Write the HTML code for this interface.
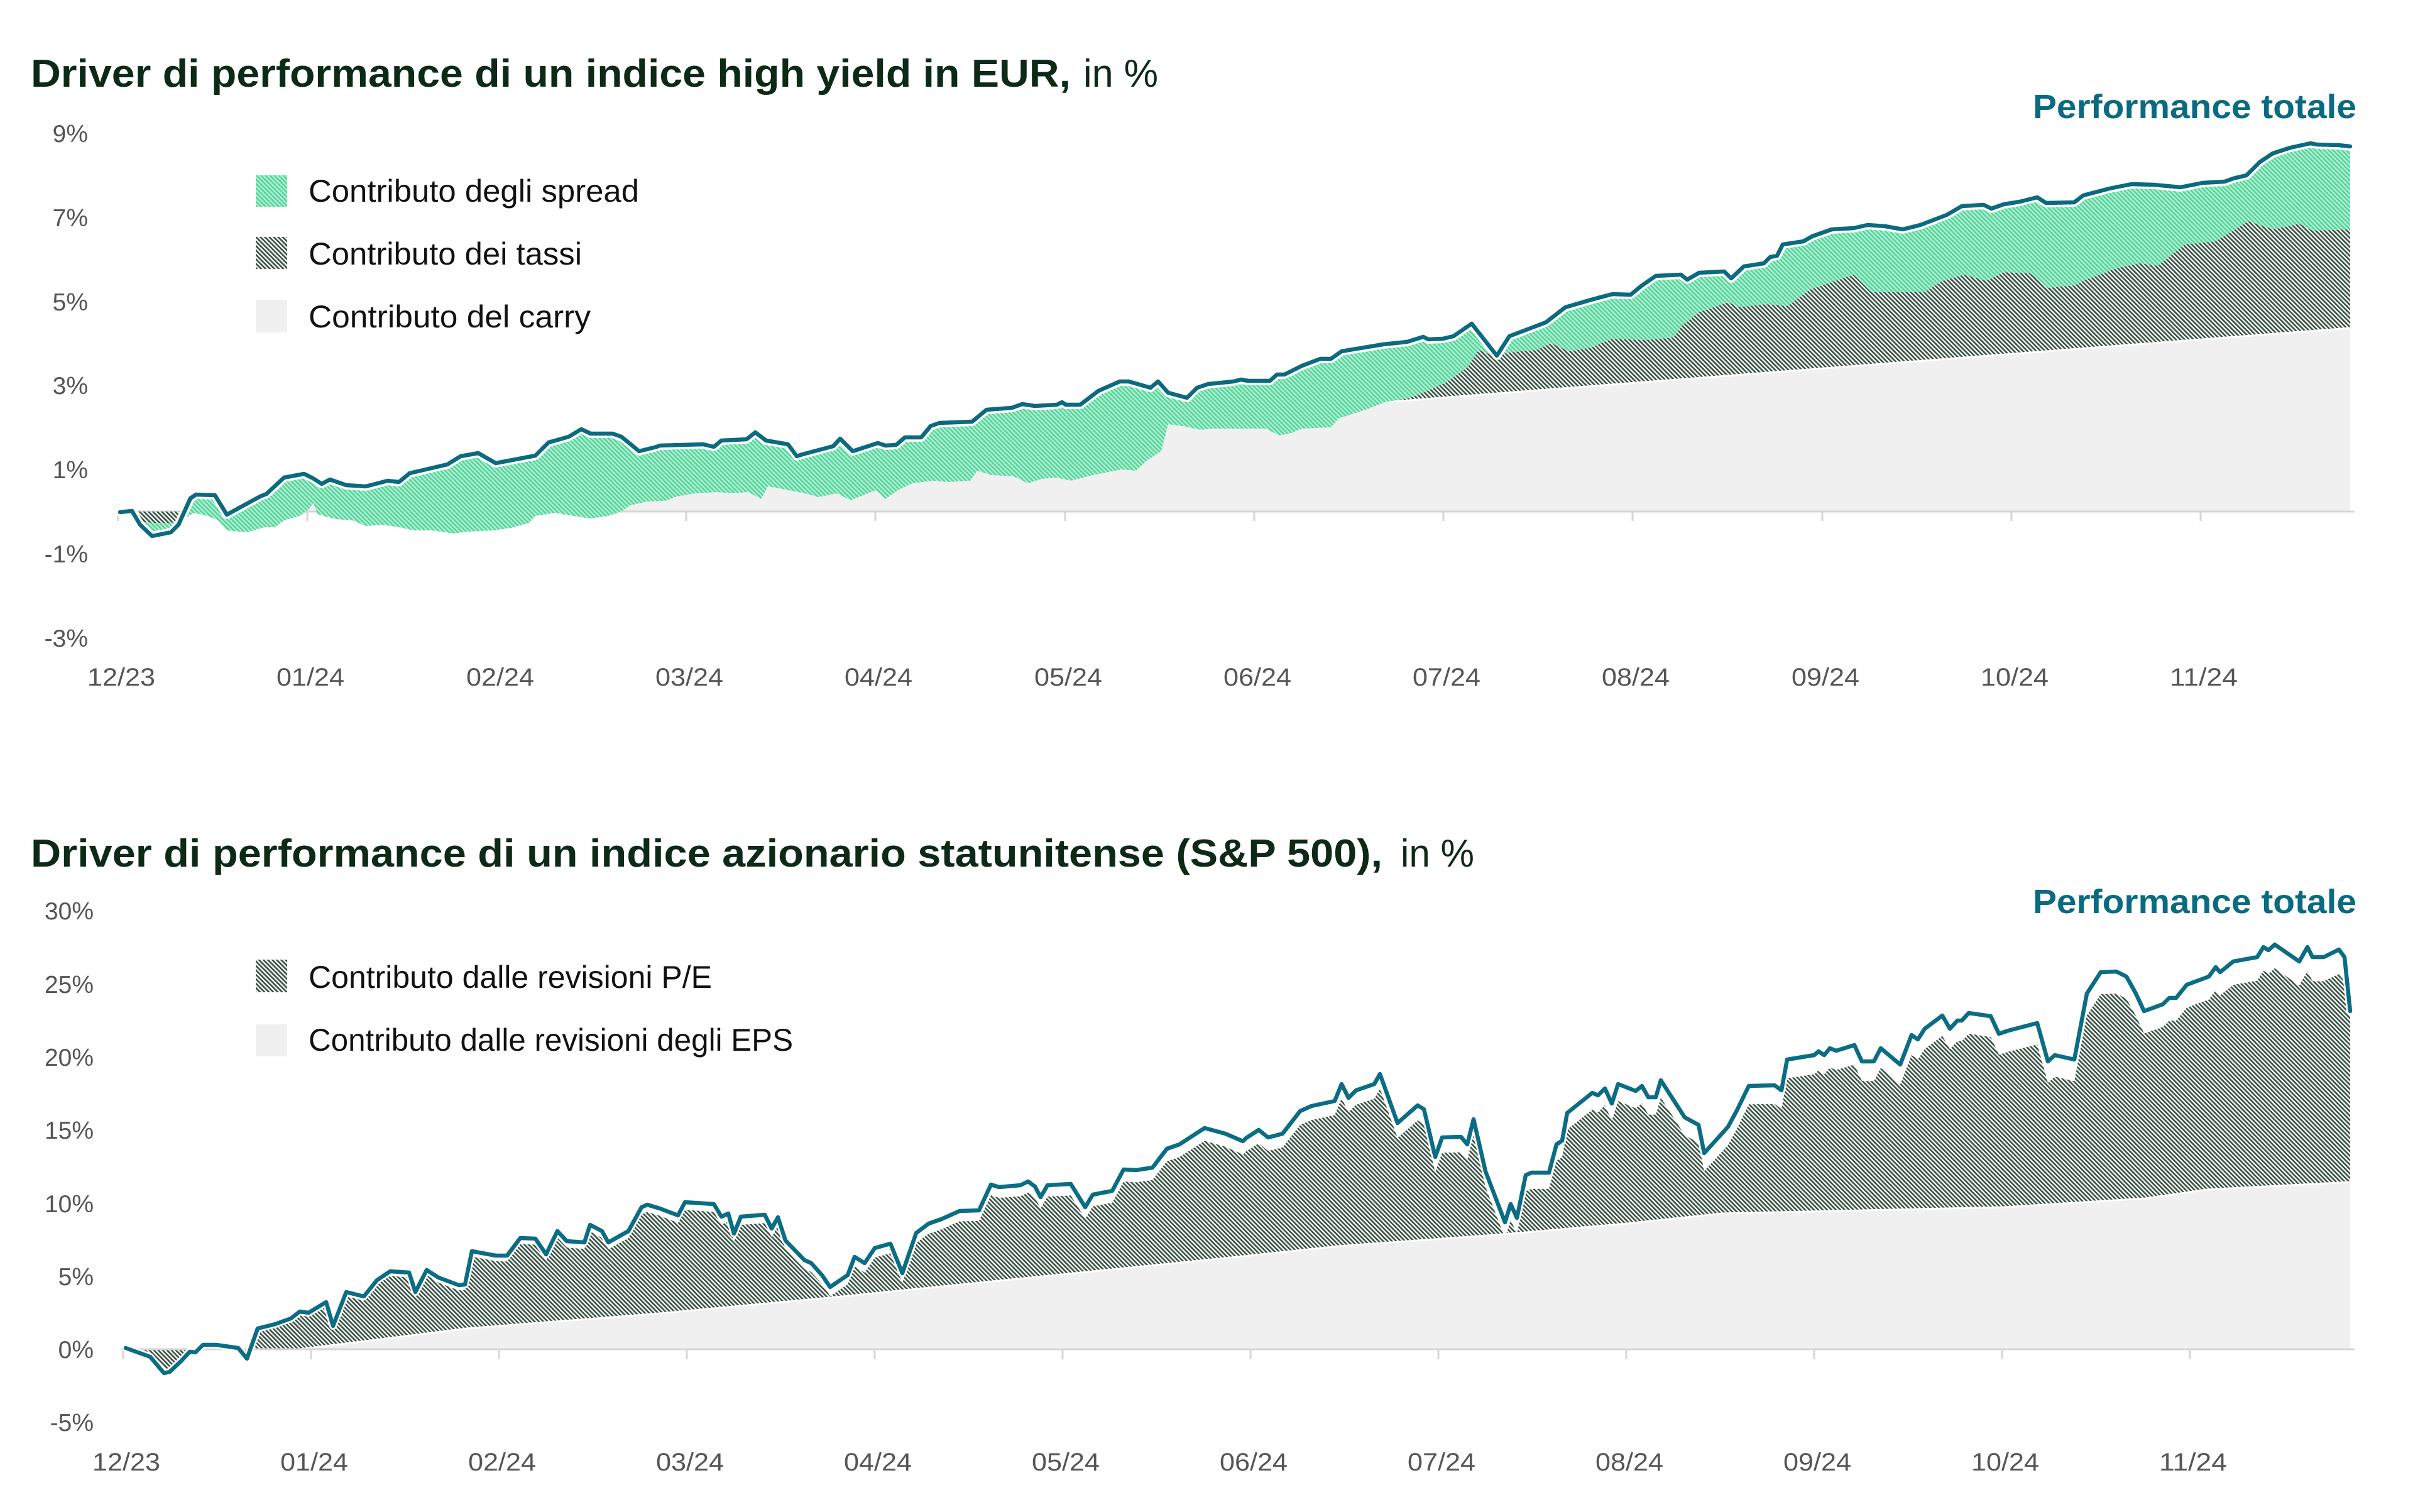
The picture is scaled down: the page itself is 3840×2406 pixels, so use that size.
<!DOCTYPE html>
<html>
<head>
<meta charset="utf-8">
<style>
  html, body { margin: 0; padding: 0; background: #ffffff; }
  svg { display: block; }
  text { font-family: "Liberation Sans", "DejaVu Sans", sans-serif; }
</style>
</head>
<body>
<svg xmlns="http://www.w3.org/2000/svg" width="3840" height="2406" viewBox="0 0 3840 2406">
  <defs>
    <pattern id="pg" patternUnits="userSpaceOnUse" width="5" height="5" patternTransform="rotate(-45)">
      <rect width="5" height="5" fill="#b3efd3"/>
      <rect width="2.5" height="5" fill="#52d49a"/>
    </pattern>
    <pattern id="pd" patternUnits="userSpaceOnUse" width="5" height="5" patternTransform="rotate(-45)">
      <rect width="5" height="5" fill="#ffffff"/>
      <rect width="2.7" height="5" fill="#3a5244"/>
    </pattern>
    <clipPath id="above1"><rect x="0" y="0" width="3840" height="814"/></clipPath>
  </defs>
  <rect width="3840" height="2406" fill="#ffffff"/>

  <!-- ================= CHART 1 ================= -->
  <text x="49" y="138" font-size="62" font-weight="bold" fill="#0d2a17" textLength="1655" lengthAdjust="spacingAndGlyphs">Driver di performance di un indice high yield in EUR,</text>
  <text x="1724" y="138" font-size="62" fill="#0d2a17" textLength="119" lengthAdjust="spacingAndGlyphs">in %</text>

  <!-- y labels -->
  <g font-size="39" fill="#555555" text-anchor="end">
    <text x="140" y="226">9%</text>
    <text x="140" y="360">7%</text>
    <text x="140" y="494">5%</text>
    <text x="140" y="627">3%</text>
    <text x="140" y="761">1%</text>
    <text x="140" y="895">-1%</text>
    <text x="140" y="1029">-3%</text>
  </g>

  <!-- carry (gray) -->
  <path clip-path="url(#above1)" fill="#f0f0f0" d="M191,814 L191,815 210,814 224,830 242,832 272,832 288,828 309,816 330,821 347,828 361,844 393,847 421,839 438,839 452,828 477,821 491,811 499,800 505,818 533,826 561,828 582,837 610,835 635,839 659,844 687,844 722,849 744,846 786,844 814,840 842,832 852,821 884,816 912,821 940,825 968,821 989,814 1003,804 1031,798 1059,797 1077,790 1107,785 1142,783 1165,785 1191,783 1211,794 1222,774 1245,778 1280,785 1303,791 1331,785 1354,796 1371,789 1394,780 1409,794 1429,780 1452,769 1486,765 1509,767 1544,765 1555,749 1578,756 1613,758 1636,769 1658,762 1682,760 1704,765 1739,756 1785,747 1808,749 1825,733 1848,718 1859,675 1882,678 1911,684 1928,682 1946,682 2015,682 2035,693 2055,689 2072,682 2118,680 2130,666 2176,651 2204,640 2500,617 2800,594 3100,571 3400,548 3740,522 3740,814 Z"/>

  <!-- axis line 1 -->
  <line x1="185" y1="814" x2="3747" y2="814" stroke="#d6d6d6" stroke-width="3"/>
  <g stroke="#d6d6d6" stroke-width="3">
    <line x1="188" y1="814" x2="188" y2="829"/>
    <line x1="489" y1="814" x2="489" y2="829"/>
    <line x1="791" y1="814" x2="791" y2="829"/>
    <line x1="1092" y1="814" x2="1092" y2="829"/>
    <line x1="1393" y1="814" x2="1393" y2="829"/>
    <line x1="1695" y1="814" x2="1695" y2="829"/>
    <line x1="1996" y1="814" x2="1996" y2="829"/>
    <line x1="2297" y1="814" x2="2297" y2="829"/>
    <line x1="2598" y1="814" x2="2598" y2="829"/>
    <line x1="2900" y1="814" x2="2900" y2="829"/>
    <line x1="3201" y1="814" x2="3201" y2="829"/>
    <line x1="3502" y1="814" x2="3502" y2="829"/>
  </g>

  <!-- tassi (dark hatched) -->
  <path fill="url(#pd)" d="M2204,640 L2244,633 2267,624 2302,608 2336,584 2353,557 2382,568 2399,561 2445,557 2468,546 2497,559 2532,553 2566,539 2618,541 2663,537 2678,517 2704,497 2750,481 2768,489 2810,484 2845,487 2880,461 2950,437 2978,465 3063,465 3091,447 3126,437 3161,447 3189,433 3231,435 3259,458 3301,454 3322,444 3371,426 3406,419 3434,423 3477,389 3526,384 3554,367 3578,352 3617,365 3659,356 3680,367 3740,365 3740,522 3400,548 3100,571 2800,594 2500,617 Z"/>
  <path fill="url(#pd)" d="M212,814 L290,814 288,828 272,832 242,832 224,830 Z"/>
  <path fill="url(#pd)" d="M361,817 L392,797 394,807 Z"/>
  <polyline fill="none" stroke="#ffffff" stroke-width="3" points="2204,640 2500,617 2800,594 3100,571 3400,548 3740,522"/>

  <!-- spread (green hatched) -->
  <path fill="url(#pg)" d="M191,815 L210,813 223,835 242,853 272,847 284,835 303,793 312,787 342,788 361,819 379,809 414,790 424,786 452,760 484,754 498,761 512,770 525,763 551,772 582,774 617,765 635,767 652,753 712,739 733,726 761,721 789,737 852,725 873,704 905,695 925,683 940,690 975,690 989,695 1017,718 1045,711 1050,709 1119,707 1136,711 1148,701 1188,699 1202,688 1219,701 1254,707 1268,726 1277,723 1326,710 1337,698 1357,718 1397,705 1409,709 1426,708 1440,696 1466,696 1481,678 1495,673 1547,671 1570,652 1610,649 1627,643 1647,646 1682,644 1690,640 1696,644 1719,644 1748,622 1782,607 1796,607 1831,617 1843,607 1859,625 1889,633 1905,617 1923,611 1934,610 1963,607 1975,604 1986,606 2021,606 2032,596 2044,596 2072,582 2101,571 2118,571 2135,559 2201,548 2239,544 2265,536 2273,540 2296,539 2313,535 2342,515 2382,566 2402,535 2460,513 2491,489 2532,477 2566,468 2595,469 2612,455 2635,439 2675,437 2685,445 2704,434 2744,432 2755,443 2775,424 2807,419 2817,409 2828,407 2837,389 2870,384 2884,376 2915,365 2950,363 2972,358 3000,360 3028,365 3056,358 3098,342 3122,328 3157,326 3169,332 3189,325 3214,321 3242,314 3256,323 3301,322 3315,311 3357,300 3392,293 3428,294 3470,298 3505,291 3540,289 3554,284 3575,279 3596,258 3617,244 3645,235 3677,228 3687,230 3722,231 3740,233 L3740,365 3680,367 3659,356 3617,365 3578,352 3554,367 3526,384 3477,389 3434,423 3406,419 3371,426 3322,444 3301,454 3259,458 3231,435 3189,433 3161,447 3126,437 3091,447 3063,465 2978,465 2950,437 2880,461 2845,487 2810,484 2768,489 2750,481 2704,497 2678,517 2663,537 2618,541 2566,539 2532,553 2497,559 2468,546 2445,557 2399,561 2382,568 2353,557 2336,584 2302,608 2267,624 2244,633 2204,640 2176,651 2130,666 2118,680 2072,682 2055,689 2035,693 2015,682 1946,682 1928,682 1911,684 1882,678 1859,675 1848,718 1825,733 1808,749 1785,747 1739,756 1704,765 1682,760 1658,762 1636,769 1613,758 1578,756 1555,749 1544,765 1509,767 1486,765 1452,769 1429,780 1409,794 1394,780 1371,789 1354,796 1331,785 1303,791 1280,785 1245,778 1222,774 1211,794 1191,783 1165,785 1142,783 1107,785 1077,790 1059,797 1031,798 1003,804 989,814 968,821 940,825 912,821 884,816 852,821 842,832 814,840 786,844 744,846 722,849 687,844 659,844 635,839 610,835 582,837 561,828 533,826 505,818 499,800 491,811 477,821 452,828 438,839 421,839 393,847 361,844 347,828 330,821 309,816 288,828 272,832 242,832 224,830 210,814 191,815 Z"/>

  <!-- total line 1 -->
  <g fill="none" stroke-linejoin="round" stroke-linecap="round">
    <polyline id="t1" stroke="#ffffff" stroke-width="14" points="191,815 210,813 223,835 242,853 272,847 284,835 303,793 312,787 342,788 361,819 379,809 414,790 424,786 452,760 484,754 498,761 512,770 525,763 551,772 582,774 617,765 635,767 652,753 712,739 733,726 761,721 789,737 852,725 873,704 905,695 925,683 940,690 975,690 989,695 1017,718 1045,711 1050,709 1119,707 1136,711 1148,701 1188,699 1202,688 1219,701 1254,707 1268,726 1277,723 1326,710 1337,698 1357,718 1397,705 1409,709 1426,708 1440,696 1466,696 1481,678 1495,673 1547,671 1570,652 1610,649 1627,643 1647,646 1682,644 1690,640 1696,644 1719,644 1748,622 1782,607 1796,607 1831,617 1843,607 1859,625 1889,633 1905,617 1923,611 1934,610 1963,607 1975,604 1986,606 2021,606 2032,596 2044,596 2072,582 2101,571 2118,571 2135,559 2201,548 2239,544 2265,536 2273,540 2296,539 2313,535 2342,515 2382,566 2402,535 2460,513 2491,489 2532,477 2566,468 2595,469 2612,455 2635,439 2675,437 2685,445 2704,434 2744,432 2755,443 2775,424 2807,419 2817,409 2828,407 2837,389 2870,384 2884,376 2915,365 2950,363 2972,358 3000,360 3028,365 3056,358 3098,342 3122,328 3157,326 3169,332 3189,325 3214,321 3242,314 3256,323 3301,322 3315,311 3357,300 3392,293 3428,294 3470,298 3505,291 3540,289 3554,284 3575,279 3596,258 3617,244 3645,235 3677,228 3687,230 3722,231 3740,233"/>
    <polyline stroke="#0b6a7f" stroke-width="6.5" points="191,815 210,813 223,835 242,853 272,847 284,835 303,793 312,787 342,788 361,819 379,809 414,790 424,786 452,760 484,754 498,761 512,770 525,763 551,772 582,774 617,765 635,767 652,753 712,739 733,726 761,721 789,737 852,725 873,704 905,695 925,683 940,690 975,690 989,695 1017,718 1045,711 1050,709 1119,707 1136,711 1148,701 1188,699 1202,688 1219,701 1254,707 1268,726 1277,723 1326,710 1337,698 1357,718 1397,705 1409,709 1426,708 1440,696 1466,696 1481,678 1495,673 1547,671 1570,652 1610,649 1627,643 1647,646 1682,644 1690,640 1696,644 1719,644 1748,622 1782,607 1796,607 1831,617 1843,607 1859,625 1889,633 1905,617 1923,611 1934,610 1963,607 1975,604 1986,606 2021,606 2032,596 2044,596 2072,582 2101,571 2118,571 2135,559 2201,548 2239,544 2265,536 2273,540 2296,539 2313,535 2342,515 2382,566 2402,535 2460,513 2491,489 2532,477 2566,468 2595,469 2612,455 2635,439 2675,437 2685,445 2704,434 2744,432 2755,443 2775,424 2807,419 2817,409 2828,407 2837,389 2870,384 2884,376 2915,365 2950,363 2972,358 3000,360 3028,365 3056,358 3098,342 3122,328 3157,326 3169,332 3189,325 3214,321 3242,314 3256,323 3301,322 3315,311 3357,300 3392,293 3428,294 3470,298 3505,291 3540,289 3554,284 3575,279 3596,258 3617,244 3645,235 3677,228 3687,230 3722,231 3740,233"/>
  </g>

  <text x="3235" y="188" font-size="54" font-weight="bold" fill="#0a6b80" textLength="515" lengthAdjust="spacingAndGlyphs">Performance totale</text>

  <!-- legend 1 -->
  <rect x="407" y="279" width="50" height="50" fill="url(#pg)"/>
  <rect x="407" y="377" width="50" height="51" fill="url(#pd)"/>
  <rect x="407" y="477" width="50" height="52" fill="#f0f0f0"/>
  <g font-size="50" fill="#111111">
    <text x="491" y="321" textLength="526" lengthAdjust="spacingAndGlyphs">Contributo degli spread</text>
    <text x="491" y="421" textLength="435" lengthAdjust="spacingAndGlyphs">Contributo dei tassi</text>
    <text x="491" y="521" textLength="449" lengthAdjust="spacingAndGlyphs">Contributo del carry</text>
  </g>

  <!-- x labels 1 -->
  <g font-size="40" fill="#555555" text-anchor="middle">
    <text x="193" y="1091" textLength="108" lengthAdjust="spacingAndGlyphs">12/23</text>
    <text x="494" y="1091" textLength="108" lengthAdjust="spacingAndGlyphs">01/24</text>
    <text x="796" y="1091" textLength="108" lengthAdjust="spacingAndGlyphs">02/24</text>
    <text x="1097" y="1091" textLength="108" lengthAdjust="spacingAndGlyphs">03/24</text>
    <text x="1398" y="1091" textLength="108" lengthAdjust="spacingAndGlyphs">04/24</text>
    <text x="1700" y="1091" textLength="108" lengthAdjust="spacingAndGlyphs">05/24</text>
    <text x="2001" y="1091" textLength="108" lengthAdjust="spacingAndGlyphs">06/24</text>
    <text x="2302" y="1091" textLength="108" lengthAdjust="spacingAndGlyphs">07/24</text>
    <text x="2603" y="1091" textLength="108" lengthAdjust="spacingAndGlyphs">08/24</text>
    <text x="2905" y="1091" textLength="108" lengthAdjust="spacingAndGlyphs">09/24</text>
    <text x="3206" y="1091" textLength="108" lengthAdjust="spacingAndGlyphs">10/24</text>
    <text x="3507" y="1091" textLength="108" lengthAdjust="spacingAndGlyphs">11/24</text>
  </g>

  <!-- ================= CHART 2 ================= -->
  <text x="49" y="1379" font-size="62" font-weight="bold" fill="#0d2a17" textLength="2151" lengthAdjust="spacingAndGlyphs">Driver di performance di un indice azionario statunitense (S&amp;P 500),</text>
  <text x="2229" y="1379" font-size="62" fill="#0d2a17" textLength="117" lengthAdjust="spacingAndGlyphs">in %</text>

  <g font-size="39" fill="#555555" text-anchor="end">
    <text x="149" y="1463">30%</text>
    <text x="149" y="1580">25%</text>
    <text x="149" y="1696">20%</text>
    <text x="149" y="1812">15%</text>
    <text x="149" y="1929">10%</text>
    <text x="149" y="2045">5%</text>
    <text x="149" y="2161">0%</text>
    <text x="149" y="2277">-5%</text>
  </g>

  <!-- P/E contribution (dark hatched) : total line shifted down by a growing gap -->
  <path fill="url(#pd)" transform="matrix(1,0.010158,0,1,0,1.009)" d="M200,2145 L239,2159 261,2185 270,2183 288,2166 302,2151 311,2152 323,2140 344,2140 379,2145 393,2162 410,2114 438,2107 463,2098 477,2087 491,2089 519,2072 530,2110 551,2056 579,2063 600,2037 621,2023 651,2025 661,2056 679,2021 698,2033 730,2045 740,2044 751,1991 789,1998 807,1998 828,1970 852,1971 869,1996 887,1959 902,1975 930,1977 939,1949 958,1959 968,1977 1000,1959 1021,1921 1030,1917 1050,1923 1079,1934 1090,1913 1136,1916 1148,1936 1159,1931 1168,1963 1179,1936 1217,1933 1228,1955 1238,1937 1250,1974 1280,2005 1291,2010 1308,2029 1321,2048 1349,2029 1360,2000 1376,2010 1392,1986 1417,1979 1436,2026 1458,1962 1478,1947 1498,1940 1527,1927 1558,1926 1577,1885 1590,1889 1624,1886 1636,1880 1647,1888 1656,1905 1667,1886 1704,1884 1727,1921 1739,1901 1770,1895 1788,1861 1808,1862 1834,1858 1857,1828 1877,1821 1917,1795 1950,1804 1978,1816 1983,1811 2003,1798 2018,1810 2041,1804 2069,1768 2087,1760 2124,1752 2135,1725 2146,1747 2158,1735 2187,1725 2196,1709 2224,1787 2256,1759 2266,1765 2284,1841 2295,1810 2325,1809 2335,1821 2345,1781 2364,1864 2395,1945 2404,1916 2414,1938 2428,1870 2437,1866 2465,1866 2477,1821 2486,1815 2494,1771 2534,1739 2543,1743 2554,1732 2565,1756 2575,1725 2603,1736 2613,1728 2623,1746 2635,1746 2643,1719 2681,1778 2703,1790 2712,1835 2750,1793 2764,1767 2783,1728 2824,1727 2835,1735 2844,1686 2887,1679 2894,1673 2903,1679 2912,1668 2922,1672 2951,1663 2963,1689 2982,1689 2993,1668 3024,1694 3042,1647 3052,1654 3063,1637 3091,1616 3103,1637 3115,1624 3122,1624 3133,1612 3168,1617 3181,1645 3196,1640 3242,1628 3259,1689 3270,1679 3301,1686 3321,1581 3343,1547 3368,1546 3384,1554 3399,1581 3412,1609 3442,1598 3452,1588 3463,1588 3480,1567 3515,1554 3526,1539 3533,1547 3554,1530 3592,1523 3602,1507 3610,1512 3620,1503 3659,1530 3672,1507 3680,1523 3698,1523 3722,1511 3731,1523 3740,1520 L3740,2108 L196,2144 Z"/>

  <!-- EPS contribution (gray) -->
  <path fill="#f0f0f0" d="M196,2147 L477,2147 743,2114 1050,2090 1320,2065 1950,2002 2130,1983 2394,1964 2589,1947 2740,1931 3189,1921 3414,1907 3512,1893 3740,1881 3740,2147 Z"/>
  <polyline fill="none" stroke="#ffffff" stroke-width="3" points="477,2147 743,2114 1050,2090 1320,2065 1950,2002 2130,1983 2394,1964 2589,1947 2740,1931 3189,1921 3414,1907 3512,1893 3740,1881"/>

  <!-- axis line 2 -->
  <line x1="193" y1="2147" x2="3747" y2="2147" stroke="#d6d6d6" stroke-width="3"/>
  <g stroke="#d6d6d6" stroke-width="3">
    <line x1="196" y1="2147" x2="196" y2="2163"/>
    <line x1="495" y1="2147" x2="495" y2="2163"/>
    <line x1="794" y1="2147" x2="794" y2="2163"/>
    <line x1="1093" y1="2147" x2="1093" y2="2163"/>
    <line x1="1392" y1="2147" x2="1392" y2="2163"/>
    <line x1="1691" y1="2147" x2="1691" y2="2163"/>
    <line x1="1990" y1="2147" x2="1990" y2="2163"/>
    <line x1="2289" y1="2147" x2="2289" y2="2163"/>
    <line x1="2588" y1="2147" x2="2588" y2="2163"/>
    <line x1="2887" y1="2147" x2="2887" y2="2163"/>
    <line x1="3186" y1="2147" x2="3186" y2="2163"/>
    <line x1="3485" y1="2147" x2="3485" y2="2163"/>
  </g>

  <!-- total line 2 -->
  <g fill="none" stroke-linejoin="round" stroke-linecap="round">
    <polyline stroke="#ffffff" stroke-width="12" points="200,2145 239,2159 261,2185 270,2183 288,2166 302,2151 311,2152 323,2140 344,2140 379,2145 393,2162 410,2114 438,2107 463,2098 477,2087 491,2089 519,2072 530,2110 551,2056 579,2063 600,2037 621,2023 651,2025 661,2056 679,2021 698,2033 730,2045 740,2044 751,1991 789,1998 807,1998 828,1970 852,1971 869,1996 887,1959 902,1975 930,1977 939,1949 958,1959 968,1977 1000,1959 1021,1921 1030,1917 1050,1923 1079,1934 1090,1913 1136,1916 1148,1936 1159,1931 1168,1963 1179,1936 1217,1933 1228,1955 1238,1937 1250,1974 1280,2005 1291,2010 1308,2029 1321,2048 1349,2029 1360,2000 1376,2010 1392,1986 1417,1979 1436,2026 1458,1962 1478,1947 1498,1940 1527,1927 1558,1926 1577,1885 1590,1889 1624,1886 1636,1880 1647,1888 1656,1905 1667,1886 1704,1884 1727,1921 1739,1901 1770,1895 1788,1861 1808,1862 1834,1858 1857,1828 1877,1821 1917,1795 1950,1804 1978,1816 1983,1811 2003,1798 2018,1810 2041,1804 2069,1768 2087,1760 2124,1752 2135,1725 2146,1747 2158,1735 2187,1725 2196,1709 2224,1787 2256,1759 2266,1765 2284,1841 2295,1810 2325,1809 2335,1821 2345,1781 2364,1864 2395,1945 2404,1916 2414,1938 2428,1870 2437,1866 2465,1866 2477,1821 2486,1815 2494,1771 2534,1739 2543,1743 2554,1732 2565,1756 2575,1725 2603,1736 2613,1728 2623,1746 2635,1746 2643,1719 2681,1778 2703,1790 2712,1835 2750,1793 2764,1767 2783,1728 2824,1727 2835,1735 2844,1686 2887,1679 2894,1673 2903,1679 2912,1668 2922,1672 2951,1663 2963,1689 2982,1689 2993,1668 3024,1694 3042,1647 3052,1654 3063,1637 3091,1616 3103,1637 3115,1624 3122,1624 3133,1612 3168,1617 3181,1645 3196,1640 3242,1628 3259,1689 3270,1679 3301,1686 3321,1581 3343,1547 3368,1546 3384,1554 3399,1581 3412,1609 3442,1598 3452,1588 3463,1588 3480,1567 3515,1554 3526,1539 3533,1547 3554,1530 3592,1523 3602,1507 3610,1512 3620,1503 3659,1530 3672,1507 3680,1523 3698,1523 3722,1511 3731,1523 3740,1609"/>
    <polyline stroke="#0b6d84" stroke-width="6.5" points="200,2145 239,2159 261,2185 270,2183 288,2166 302,2151 311,2152 323,2140 344,2140 379,2145 393,2162 410,2114 438,2107 463,2098 477,2087 491,2089 519,2072 530,2110 551,2056 579,2063 600,2037 621,2023 651,2025 661,2056 679,2021 698,2033 730,2045 740,2044 751,1991 789,1998 807,1998 828,1970 852,1971 869,1996 887,1959 902,1975 930,1977 939,1949 958,1959 968,1977 1000,1959 1021,1921 1030,1917 1050,1923 1079,1934 1090,1913 1136,1916 1148,1936 1159,1931 1168,1963 1179,1936 1217,1933 1228,1955 1238,1937 1250,1974 1280,2005 1291,2010 1308,2029 1321,2048 1349,2029 1360,2000 1376,2010 1392,1986 1417,1979 1436,2026 1458,1962 1478,1947 1498,1940 1527,1927 1558,1926 1577,1885 1590,1889 1624,1886 1636,1880 1647,1888 1656,1905 1667,1886 1704,1884 1727,1921 1739,1901 1770,1895 1788,1861 1808,1862 1834,1858 1857,1828 1877,1821 1917,1795 1950,1804 1978,1816 1983,1811 2003,1798 2018,1810 2041,1804 2069,1768 2087,1760 2124,1752 2135,1725 2146,1747 2158,1735 2187,1725 2196,1709 2224,1787 2256,1759 2266,1765 2284,1841 2295,1810 2325,1809 2335,1821 2345,1781 2364,1864 2395,1945 2404,1916 2414,1938 2428,1870 2437,1866 2465,1866 2477,1821 2486,1815 2494,1771 2534,1739 2543,1743 2554,1732 2565,1756 2575,1725 2603,1736 2613,1728 2623,1746 2635,1746 2643,1719 2681,1778 2703,1790 2712,1835 2750,1793 2764,1767 2783,1728 2824,1727 2835,1735 2844,1686 2887,1679 2894,1673 2903,1679 2912,1668 2922,1672 2951,1663 2963,1689 2982,1689 2993,1668 3024,1694 3042,1647 3052,1654 3063,1637 3091,1616 3103,1637 3115,1624 3122,1624 3133,1612 3168,1617 3181,1645 3196,1640 3242,1628 3259,1689 3270,1679 3301,1686 3321,1581 3343,1547 3368,1546 3384,1554 3399,1581 3412,1609 3442,1598 3452,1588 3463,1588 3480,1567 3515,1554 3526,1539 3533,1547 3554,1530 3592,1523 3602,1507 3610,1512 3620,1503 3659,1530 3672,1507 3680,1523 3698,1523 3722,1511 3731,1523 3740,1609"/>
  </g>

  <text x="3235" y="1453" font-size="54" font-weight="bold" fill="#0a6b80" textLength="515" lengthAdjust="spacingAndGlyphs">Performance totale</text>

  <!-- legend 2 -->
  <rect x="407" y="1527" width="50" height="52" fill="url(#pd)"/>
  <rect x="407" y="1630" width="50" height="51" fill="#f0f0f0"/>
  <g font-size="50" fill="#111111">
    <text x="491" y="1572" textLength="642" lengthAdjust="spacingAndGlyphs">Contributo dalle revisioni P/E</text>
    <text x="491" y="1672" textLength="771" lengthAdjust="spacingAndGlyphs">Contributo dalle revisioni degli EPS</text>
  </g>

  <!-- x labels 2 -->
  <g font-size="40" fill="#555555" text-anchor="middle">
    <text x="201" y="2340" textLength="108" lengthAdjust="spacingAndGlyphs">12/23</text>
    <text x="500" y="2340" textLength="108" lengthAdjust="spacingAndGlyphs">01/24</text>
    <text x="799" y="2340" textLength="108" lengthAdjust="spacingAndGlyphs">02/24</text>
    <text x="1098" y="2340" textLength="108" lengthAdjust="spacingAndGlyphs">03/24</text>
    <text x="1397" y="2340" textLength="108" lengthAdjust="spacingAndGlyphs">04/24</text>
    <text x="1696" y="2340" textLength="108" lengthAdjust="spacingAndGlyphs">05/24</text>
    <text x="1995" y="2340" textLength="108" lengthAdjust="spacingAndGlyphs">06/24</text>
    <text x="2294" y="2340" textLength="108" lengthAdjust="spacingAndGlyphs">07/24</text>
    <text x="2593" y="2340" textLength="108" lengthAdjust="spacingAndGlyphs">08/24</text>
    <text x="2892" y="2340" textLength="108" lengthAdjust="spacingAndGlyphs">09/24</text>
    <text x="3191" y="2340" textLength="108" lengthAdjust="spacingAndGlyphs">10/24</text>
    <text x="3490" y="2340" textLength="108" lengthAdjust="spacingAndGlyphs">11/24</text>
  </g>
</svg>
</body>
</html>
